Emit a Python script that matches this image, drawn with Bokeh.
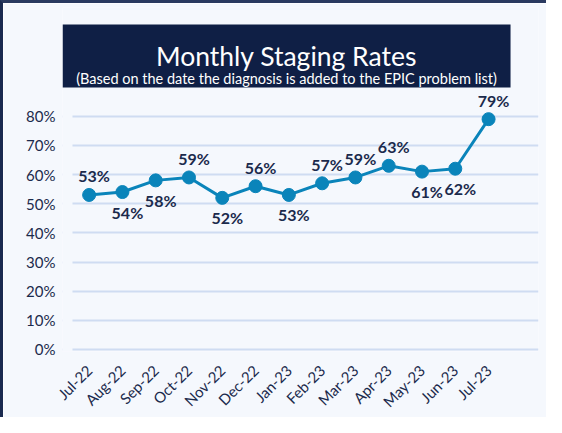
import math
from bokeh.plotting import figure
from bokeh.models import (ColumnDataSource, Range1d, FixedTicker, BoxAnnotation, Label)
from bokeh.core.properties import value
from bokeh.embed import file_html
from bokeh.resources import INLINE

# ---- data ----
months = ["Jul-22", "Aug-22", "Sep-22", "Oct-22", "Nov-22", "Dec-22", "Jan-23",
          "Feb-23", "Mar-23", "Apr-23", "May-23", "Jun-23", "Jul-23"]
rates = [53, 54, 58, 59, 52, 56, 53, 57, 59, 63, 61, 62, 79]
label_side = ["above", "below", "below", "above", "below", "above", "below",
              "above", "above", "above", "below", "below", "above"]
y_ticks = [0, 10, 20, 30, 40, 50, 60, 70, 80]
title_text = "Monthly Staging Rates"
subtitle_text = "(Based on the date the diagnosis is added to the EPIC problem list)"

BG = "#f5f8fd"
NAVY = "#0f1f45"
TEXT = "#1b2a4c"
LINE = "#0a84ba"
GRID = "#cfdcf2"
FONT = "Lato"

xs = list(range(len(months)))
src = ColumnDataSource(dict(
    x=xs, y=rates,
    lab=[f"{v}%" for v in rates],
    yoff=[-19 if s == "above" else 20 for s in label_side],
))

x_lo = -0.8
p = figure(width=546, height=417, output_backend="svg", toolbar_location=None,
           x_range=Range1d(x_lo, len(months) + 0.5), y_range=Range1d(-0.7, 117.3),
           min_border_left=59, min_border_right=11, min_border_top=4, min_border_bottom=69)
p.background_fill_color = BG
p.border_fill_color = BG
p.outline_line_color = None
p.styles = {"border-top": "3px solid #2a3a60", "border-left": "3px solid #1a2a50"}

# axes
p.yaxis.ticker = FixedTicker(ticks=y_ticks)
p.yaxis.major_label_overrides = {t: f"{t}%" for t in y_ticks}
p.yaxis.axis_line_color = None
p.yaxis.major_tick_out = 0
p.yaxis.major_tick_in = 0
p.yaxis.minor_tick_out = 0
p.yaxis.minor_tick_in = 0
p.yaxis.major_label_standoff = 7
p.yaxis.major_label_text_font = FONT
p.yaxis.major_label_text_font_size = "15px"
p.yaxis.major_label_text_color = TEXT

p.xaxis.ticker = FixedTicker(ticks=xs)
p.xaxis.major_label_overrides = {i: m for i, m in zip(xs, months)}
p.xaxis.major_label_orientation = math.pi / 4
p.xaxis.axis_line_color = None
p.xaxis.major_tick_out = 0
p.xaxis.major_tick_in = 0
p.xaxis.minor_tick_out = 0
p.xaxis.minor_tick_in = 0
p.xaxis.major_label_standoff = 16
p.xaxis.major_label_text_font = FONT
p.xaxis.major_label_text_font_size = "15px"
p.xaxis.major_label_text_color = TEXT

p.xgrid.grid_line_color = None
p.ygrid.ticker = FixedTicker(ticks=y_ticks)
p.ygrid.grid_line_color = GRID
p.ygrid.grid_line_width = 2

# mask so gridlines start a little right of the frame edge
p.add_layout(BoxAnnotation(left=x_lo, right=-0.5, bottom=-3, top=85,
                           fill_color=BG, fill_alpha=1.0, line_color=None))

# title box
p.add_layout(BoxAnnotation(left=x_lo, right=12.66, top=111.45, bottom=89.85,
                           fill_color=NAVY, fill_alpha=1.0, line_color=None))
p.add_layout(Label(x=5.93, y=100.6, text=title_text, text_align="center",
                   text_baseline="alphabetic", text_color="white",
                   text_font=FONT, text_font_size="26.5px"))
p.add_layout(Label(x=5.93, y=92.8, text=subtitle_text, text_align="center",
                   text_baseline="alphabetic", text_color="white",
                   text_font=FONT, text_font_size="14.5px"))

# series
p.line("x", "y", source=src, line_color=LINE, line_width=3)
p.scatter("x", "y", source=src, size=13, fill_color=LINE, line_color=LINE)
p.text("x", "y", text="lab", source=src, x_offset=5, y_offset="yoff",
       text_align="center", text_baseline="middle", text_color=TEXT,
       text_font=value(FONT), text_font_size="16px", text_font_style="bold")

open("out.html", "w").write(file_html(p, INLINE))
